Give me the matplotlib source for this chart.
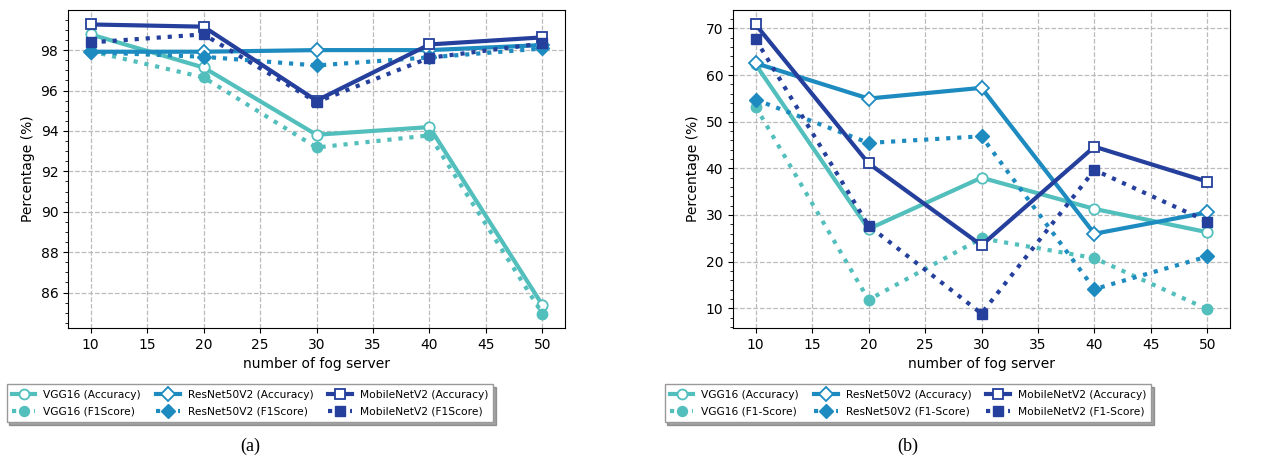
import matplotlib
matplotlib.use("Agg")
import matplotlib.pyplot as plt

# number of fog servers
servers = [10, 20, 30, 40, 50]

# (a) values
vgg_acc_a = [98.78, 97.14, 93.81, 94.19, 85.38]
vgg_f1_a = [97.95, 96.65, 93.18, 93.78, 84.96]
res_acc_a = [97.92, 97.92, 98.0, 98.0, 98.25]
res_f1_a = [97.9, 97.67, 97.24, 97.64, 98.08]
mob_acc_a = [99.27, 99.16, 95.5, 98.28, 98.63]
mob_f1_a = [98.38, 98.78, 95.43, 97.62, 98.33]

# (b)
vgg_acc_b = [62.3, 27.0, 38.0, 31.3, 26.3]
vgg_f1_b = [53.25, 11.8, 25.0, 20.75, 9.8]
res_acc_b = [62.55, 54.97, 57.26, 25.97, 30.55]
res_f1_b = [54.75, 45.45, 46.87, 14.1, 21.1]
mob_acc_b = [70.86, 41.07, 23.5, 44.65, 37.14]
mob_f1_b = [67.7, 27.7, 8.86, 39.65, 28.6]

c_vgg = "#52bfbd"
c_res = "#1d8bc0"
c_mob = "#243f9c"


def draw(ax, vals, f1name):
    va, vf, ra, rf, ma, mf = vals
    ax.plot(servers, va, color=c_vgg, lw=3, marker="o", ms=7.5, mfc="white", mew=1.3,
            label="VGG16 (Accuracy)")
    ax.plot(servers, vf, color=c_vgg, lw=3, ls=":", marker="o", ms=7.5,
            label="VGG16 (" + f1name + ")")
    ax.plot(servers, ra, color=c_res, lw=3, marker="D", ms=7.5, mfc="white", mew=1.3,
            label="ResNet50V2 (Accuracy)")
    ax.plot(servers, rf, color=c_res, lw=3, ls=":", marker="D", ms=7.5,
            label="ResNet50V2 (" + f1name + ")")
    ax.plot(servers, ma, color=c_mob, lw=3, marker="s", ms=7.5, mfc="white", mew=1.3,
            label="MobileNetV2 (Accuracy)")
    ax.plot(servers, mf, color=c_mob, lw=3, ls=":", marker="s", ms=7.5,
            label="MobileNetV2 (" + f1name + ")")
    ax.grid(True, ls="--", color="#bbbbbb", lw=0.9)
    ax.minorticks_on()
    ax.tick_params(axis="x", which="minor", bottom=False)
    ax.tick_params(labelsize=10)
    ax.set_xlabel("number of fog server", fontsize=10)
    ax.set_ylabel("Percentage (%)", fontsize=10)


W, H = 1264, 457
fig = plt.figure(figsize=(12.64, 4.57), dpi=100)
ax1 = fig.add_axes([68 / W, 1 - 328 / H, 497 / W, 318 / H])
ax2 = fig.add_axes([733 / W, 1 - 328 / H, 497 / W, 318 / H])

draw(ax1, [vgg_acc_a, vgg_f1_a, res_acc_a, res_f1_a, mob_acc_a, mob_f1_a], "F1Score")
draw(ax2, [vgg_acc_b, vgg_f1_b, res_acc_b, res_f1_b, mob_acc_b, mob_f1_b], "F1-Score")

for ax, cx, cap in [(ax1, 250, "(a)"), (ax2, 908, "(b)")]:
    h, l = ax.get_legend_handles_labels()
    fig.legend(h, l, loc="center", bbox_to_anchor=(cx / W, 1 - 403 / H), ncol=3,
               fontsize=7.7, shadow=True, fancybox=False, edgecolor="#999999",
               columnspacing=1.4, handlelength=2.2, handletextpad=0.75,
               borderpad=0.5, labelspacing=0.65, markerscale=0.95)
    fig.text(cx / W, 1 - 446 / H, cap, ha="center", va="center",
             fontsize=13, family="Liberation Serif")

plt.savefig("out.png", dpi=100)
